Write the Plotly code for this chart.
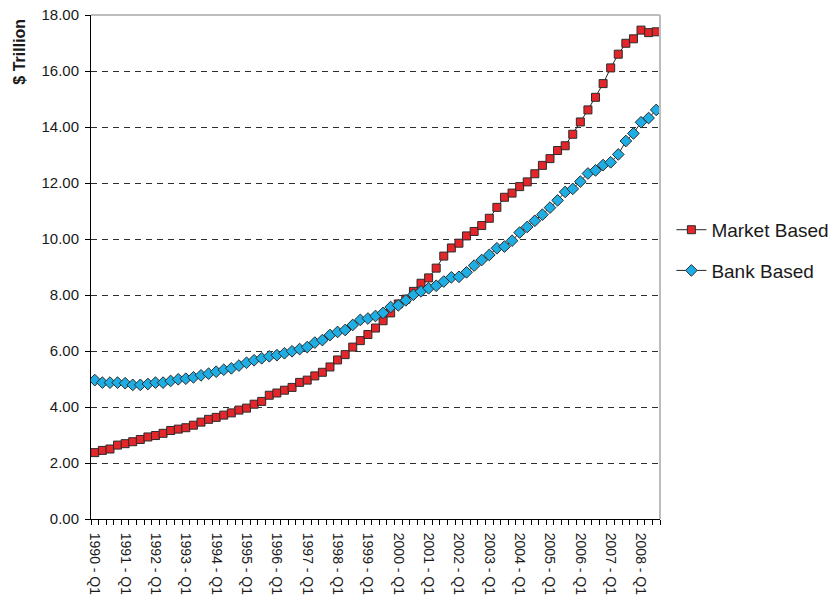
import plotly.graph_objects as go

# Quarterly periods, 1990 Q1 through 2008 Q3
years = list(range(1990, 2009))
quarters = [f"{y} - Q{q}" for y in years for q in (1, 2, 3, 4)][:75]

# $ trillion
market_based = [
    2.37, 2.45, 2.50, 2.64, 2.69, 2.76, 2.84, 2.93, 2.98, 3.06,
    3.16, 3.21, 3.26, 3.35, 3.46, 3.56, 3.63, 3.71, 3.79, 3.89,
    3.96, 4.10, 4.20, 4.42, 4.50, 4.60, 4.70, 4.88, 4.96, 5.11,
    5.24, 5.43, 5.68, 5.87, 6.14, 6.37, 6.59, 6.82, 7.08, 7.36,
    7.68, 7.85, 8.13, 8.42, 8.61, 8.96, 9.39, 9.68, 9.85, 10.11,
    10.27, 10.48, 10.74, 11.13, 11.49, 11.64, 11.87, 12.04, 12.33, 12.63,
    12.87, 13.16, 13.33, 13.74, 14.18, 14.61, 15.06, 15.55, 16.11, 16.60,
    16.99, 17.15, 17.46, 17.37, 17.40,
]
bank_based = [
    4.96, 4.87, 4.87, 4.87, 4.85, 4.79, 4.79, 4.82, 4.87, 4.87,
    4.93, 4.99, 5.01, 5.06, 5.13, 5.19, 5.26, 5.33, 5.38, 5.48,
    5.58, 5.67, 5.74, 5.81, 5.85, 5.92, 5.99, 6.07, 6.14, 6.30,
    6.39, 6.57, 6.68, 6.75, 6.93, 7.11, 7.16, 7.25, 7.36, 7.57,
    7.63, 7.81, 8.01, 8.13, 8.24, 8.33, 8.48, 8.63, 8.65, 8.81,
    9.05, 9.25, 9.43, 9.67, 9.73, 9.94, 10.23, 10.43, 10.65, 10.87,
    11.12, 11.38, 11.68, 11.79, 12.05, 12.34, 12.45, 12.64, 12.74, 13.02,
    13.50, 13.77, 14.17, 14.32, 14.61,
]

y_ticks = [0, 2, 4, 6, 8, 10, 12, 14, 16, 18]

FONT = "Liberation Sans, Arial, sans-serif"
x_idx = list(range(len(quarters)))
label_idx = x_idx[::4]

fig = go.Figure()
fig.add_trace(go.Scatter(
    x=x_idx, y=market_based, name="Market Based", mode="lines+markers",
    legendgroup="m", customdata=quarters,
    line=dict(color="#262626", width=1),
    marker=dict(symbol="square", size=8, color="#e4262b",
                line=dict(color="#2b2b2b", width=1)),
))
fig.add_trace(go.Scatter(
    x=x_idx, y=bank_based, name="Bank Based", mode="lines+markers",
    legendgroup="b", customdata=quarters,
    line=dict(color="#262626", width=1),
    marker=dict(symbol="diamond", size=9, color="#1eaee3",
                line=dict(color="#2b2b2b", width=1)),
))

fig.update_layout(
    width=830, height=605,
    margin=dict(l=91, r=170, t=15, b=86, autoexpand=False),
    paper_bgcolor="white", plot_bgcolor="white",
    font=dict(family=FONT, color="#1a1a1a"),
    showlegend=True,
    legend=dict(x=1.02, xanchor="left", y=0.533, yanchor="middle",
                font=dict(size=19, family=FONT, color="#1a1a1a"),
                tracegroupgap=13, bgcolor="rgba(0,0,0,0)", itemwidth=30),
    xaxis=dict(
        range=[-0.5, len(quarters) - 0.5], automargin=False,
        tickmode="array", tickvals=label_idx,
        ticktext=[quarters[i] for i in label_idx],
        tickangle=90, ticks="", showgrid=False, zeroline=False,
        showline=True, linecolor="#000", linewidth=1,
        ticklabelstandoff=10,
        tickfont=dict(size=14, family=FONT, color="#1a1a1a"),
        minor=dict(tick0=-0.5, dtick=1, ticks="outside", ticklen=5,
                   tickcolor="#000", showgrid=False),
    ),
    yaxis=dict(
        range=[0, 18], automargin=False,
        tickmode="array", tickvals=y_ticks, tickformat=".2f",
        ticks="outside", ticklen=5, tickcolor="#000",
        showgrid=True, gridcolor="#2e2e2e", griddash="6px,5px", gridwidth=1,
        zeroline=False, showline=True, linecolor="#000", linewidth=1,
        ticklabelstandoff=3,
        tickfont=dict(size=15, family=FONT, color="#1a1a1a"),
    ),
    shapes=[
        dict(type="line", xref="paper", yref="paper", x0=0, x1=1, y0=1, y1=1,
             line=dict(color="#bdbdbd", width=2)),
        dict(type="line", xref="paper", yref="paper", x0=1, x1=1, y0=0, y1=1,
             line=dict(color="#bdbdbd", width=2)),
    ],
    annotations=[
        dict(text="<b>$ Trillion</b>", xref="paper", yref="paper",
             x=-0.125, y=0.927, xanchor="center", yanchor="middle",
             textangle=-90, showarrow=False,
             font=dict(size=16, family=FONT, color="#1a1a1a")),
    ],
)

fig.write_html("out.html")
